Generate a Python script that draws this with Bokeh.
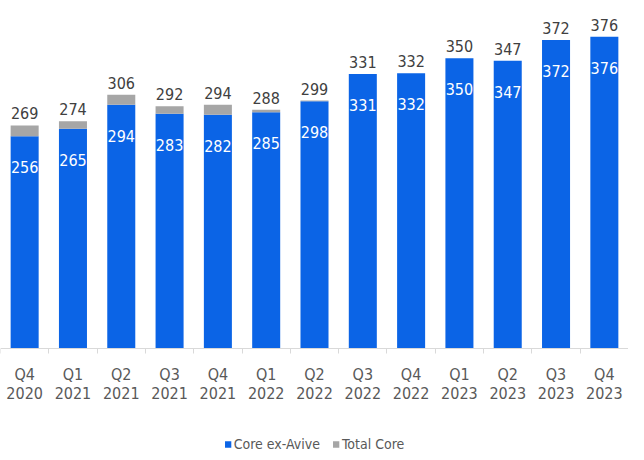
from bokeh.plotting import figure
from bokeh.models import (ColumnDataSource, FixedTicker, Legend, LegendItem, Range1d,
                          LinearAxis)
from bokeh.core.properties import value
from bokeh.embed import file_html
from bokeh.resources import INLINE

quarter_labels = ["Q4", "Q1", "Q2", "Q3", "Q4", "Q1", "Q2", "Q3", "Q4", "Q1", "Q2", "Q3", "Q4"]
year_labels = ["2020", "2021", "2021", "2021", "2021", "2022", "2022", "2022", "2022",
               "2023", "2023", "2023", "2023"]
core_ex_avive = [256, 265, 294, 283, 282, 285, 298, 331, 332, 350, 347, 372, 376]
total_core = [269, 274, 306, 292, 294, 288, 299, 331, 332, 350, 347, 372, 376]

BLUE = "#0B64E6"
GRAY = "#A6A6A6"
FONT = "DejaVu Sans Condensed"

n = len(quarter_labels)
idx = list(range(n))
avive = [t - c for t, c in zip(total_core, core_ex_avive)]
src = ColumnDataSource(dict(
    x=idx, core=core_ex_avive, avive=avive, total=total_core,
    core_lbl=[str(v) for v in core_ex_avive], total_lbl=[str(v) for v in total_core],
))

# frame extends below the zero line so the legend can sit inside it
p = figure(frame_width=628, frame_height=444, output_backend="svg", toolbar_location=None,
           x_range=Range1d(-0.5, n - 0.5), y_range=Range1d(-125.5, 410),
           min_border_left=0, min_border_right=0, min_border_top=8, min_border_bottom=0)
p.outline_line_color = None
p.background_fill_color = "white"
p.border_fill_color = "white"

rs = p.vbar_stack(["core", "avive"], x="x", width=0.58, color=[BLUE, GRAY], source=src,
                  line_color=None)

p.text(x="x", y="total", text="total_lbl", source=src, text_align="center",
       text_baseline="alphabetic", y_offset=-12, text_font=value(FONT),
       text_font_size="16px", text_color="#404040")
p.text(x="x", y="core", text="core_lbl", source=src, text_align="center",
       text_baseline="alphabetic", y_offset=31, text_font=value(FONT),
       text_font_size="16px", text_color="white")

p.yaxis.visible = False
p.grid.visible = False

ax = p.xaxis[0]
ax.fixed_location = 0
ax.ticker = FixedTicker(ticks=idx, minor_ticks=[i - 0.5 for i in range(n + 1)])
ax.major_label_overrides = {i: q for i, q in enumerate(quarter_labels)}
ax.major_tick_line_color = None
ax.major_tick_out = 0
ax.major_tick_in = 0
ax.minor_tick_line_color = "#D9D9D9"
ax.minor_tick_out = 5
ax.minor_tick_in = 0
ax.axis_line_color = "#D9D9D9"
ax.major_label_text_font = FONT
ax.major_label_text_font_size = "16px"
ax.major_label_text_color = "#595959"
ax.major_label_standoff = 12

ax2 = LinearAxis(ticker=FixedTicker(ticks=idx), fixed_location=0,
                 major_label_overrides={i: y for i, y in enumerate(year_labels)})
ax2.axis_line_color = None
ax2.major_tick_line_color = None
ax2.major_tick_out = 0
ax2.major_tick_in = 0
ax2.minor_tick_line_color = None
ax2.minor_tick_out = 0
ax2.minor_tick_in = 0
ax2.major_label_text_font = FONT
ax2.major_label_text_font_size = "16px"
ax2.major_label_text_color = "#595959"
ax2.major_label_standoff = 39
p.add_layout(ax2, "below")

legend = Legend(items=[LegendItem(label="Core ex-Avive", renderers=[rs[0]]),
                       LegendItem(label="Total Core", renderers=[rs[1]])],
                orientation="horizontal", location="bottom_center")
legend.label_text_font = FONT
legend.label_text_font_size = "14px"
legend.label_text_color = "#595959"
legend.label_height = 14
legend.glyph_width = 8
legend.glyph_height = 8
legend.label_standoff = 2
legend.spacing = 12
legend.border_line_color = None
legend.background_fill_alpha = 0
legend.margin = 0
legend.padding = 0
p.add_layout(legend, "center")

open("out.html", "w").write(file_html(p, INLINE))
